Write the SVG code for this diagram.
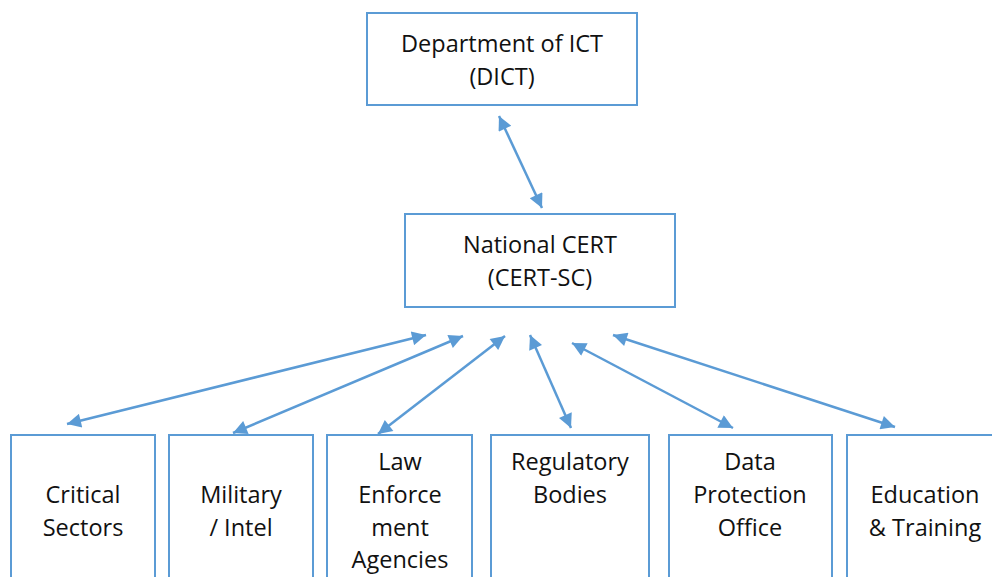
<svg xmlns="http://www.w3.org/2000/svg" width="992" height="577" viewBox="0 0 992 577">
<style>
.box{fill:#fff;stroke:#5B9BD5;stroke-width:2}
.t{font-family:"Open Sans","Liberation Sans",sans-serif;font-size:23.5px;fill:#111;text-anchor:middle}
.c{stroke:#5B9BD5;stroke-width:2.5;fill:none;marker-start:url(#ah);marker-end:url(#ah)}
</style>
<defs>
<marker id="ah" viewBox="0 0 10 10" refX="10" refY="5" markerWidth="16" markerHeight="14" markerUnits="userSpaceOnUse" orient="auto-start-reverse">
<path d="M0,0 L10,5 L0,10 z" fill="#5B9BD5"/>
</marker>
</defs>
<rect width="992" height="577" fill="#fff"/>
<g id="dict"><rect class="box" x="367" y="13" width="270" height="92"/>
<text class="t" x="502" y="52">Department of ICT</text><text class="t" x="502" y="85">(DICT)</text></g>
<g id="cert"><rect class="box" x="405" y="214" width="270" height="93"/>
<text class="t" x="540" y="253">National CERT</text><text class="t" x="540" y="286">(CERT-SC)</text></g>
<g id="critical"><rect class="box" x="11" y="435" width="144" height="170"/>
<text class="t" x="83" y="503">Critical</text><text class="t" x="83" y="536">Sectors</text></g>
<g id="military"><rect class="box" x="169" y="435" width="144" height="170"/>
<text class="t" x="241" y="503">Military</text><text class="t" x="241" y="536">/ Intel</text></g>
<g id="law"><rect class="box" x="327" y="435" width="145" height="170"/>
<text class="t" x="400" y="470">Law</text><text class="t" x="400" y="503">Enforce</text><text class="t" x="400" y="536">ment</text><text class="t" x="400" y="568">Agencies</text></g>
<g id="regulatory"><rect class="box" x="491" y="435" width="158" height="170"/>
<text class="t" x="570" y="470">Regulatory</text><text class="t" x="570" y="503">Bodies</text></g>
<g id="dpo"><rect class="box" x="669" y="435" width="163" height="170"/>
<text class="t" x="750" y="470">Data</text><text class="t" x="750" y="503">Protection</text><text class="t" x="750" y="536">Office</text></g>
<g id="education"><rect class="box" x="847" y="435" width="160" height="170"/>
<text class="t" x="925" y="503">Education</text><text class="t" x="925" y="536">&amp; Training</text></g>
<g id="connectors">
<line class="c" x1="499" y1="116" x2="542" y2="208"/>
<line class="c" x1="67" y1="424" x2="426" y2="335"/>
<line class="c" x1="233" y1="433" x2="463" y2="336"/>
<line class="c" x1="378" y1="434" x2="505" y2="336"/>
<line class="c" x1="530" y1="335" x2="571" y2="428"/>
<line class="c" x1="572" y1="343" x2="733" y2="428"/>
<line class="c" x1="613" y1="335" x2="895" y2="427"/>
</g>
</svg>
